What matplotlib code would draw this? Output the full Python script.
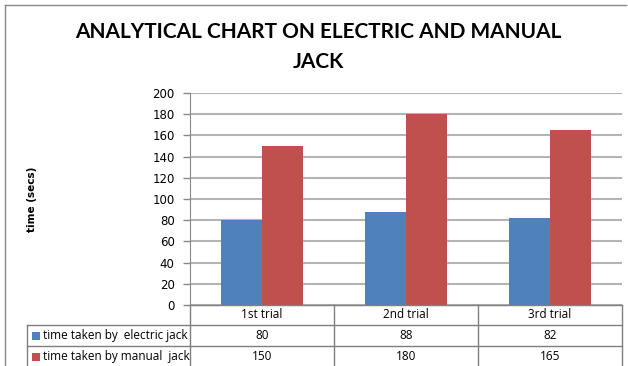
import matplotlib
matplotlib.use("Agg")
import matplotlib.pyplot as plt
from matplotlib.lines import Line2D
from matplotlib.patches import Rectangle

# data
trials = ["1st trial", "2nd trial", "3rd trial"]
series_names = ["time taken by  electric jack", "time taken by manual  jack"]
electric = [80, 88, 82]
manual = [150, 180, 165]
colors = ["#4F81BD", "#C0504D"]
yticks = [0, 20, 40, 60, 80, 100, 120, 140, 160, 180, 200]

W, H = 628, 366
fig = plt.figure(figsize=(W / 100, H / 100), dpi=100)
fig.patch.set_facecolor("white")


def fx(px):
    return px / W


def fy(py):
    return 1 - py / H


# plot area in pixels
left, right, top, bottom = 190, 622, 93, 305
ax = fig.add_axes([fx(left), fy(bottom), fx(right - left), fy(top) - fy(bottom)])

n = len(trials)
bw = 0.285
xs = range(n)
ax.bar([x - bw / 2 for x in xs], electric, bw, color=colors[0], zorder=3)
ax.bar([x + bw / 2 for x in xs], manual, bw, color=colors[1], zorder=3)

ax.set_xlim(-0.5, n - 0.5)
ax.set_ylim(0, 200)
ax.set_yticks(yticks)
ax.set_yticklabels([str(t) for t in yticks], fontsize=8.5, family="DejaVu Sans")
ax.set_xticks([])
ax.tick_params(axis="y", length=5, color="#888888", pad=6, width=1)
ax.yaxis.grid(True, color="#b4b4b4", linewidth=1.5, zorder=0)
for s in ["top", "right", "bottom"]:
    ax.spines[s].set_visible(False)
ax.spines["left"].set_color("#888888")

# title and y label
fig.text(fx(318), fy(32), "ANALYTICAL CHART ON ELECTRIC AND MANUAL", ha="center", va="center",
         fontsize=15, fontweight="bold", family="Lato")
fig.text(fx(318), fy(62), "JACK", ha="center", va="center",
         fontsize=15, fontweight="bold", family="Lato")
fig.text(fx(32), fy(199), "time (secs)", rotation=90, ha="center", va="center",
         fontsize=7.5, fontweight="bold", family="DejaVu Sans")

# outer border
gc = "#888888"
fig.add_artist(Line2D([fx(5), fx(5)], [fy(5), fy(366)], color=gc, lw=1))
fig.add_artist(Line2D([fx(5), fx(626)], [fy(5), fy(5)], color=gc, lw=1))

# data table under the axis
rows = [305, 325, 346, 367]
cat_w = (right - left) / n
col_x = [left + i * cat_w for i in range(n + 1)]
lab_left = 27
tc = "#7f7f7f"
# horizontal lines
fig.add_artist(Line2D([fx(left), fx(right)], [fy(rows[0]), fy(rows[0])], color=tc, lw=1))
for r in rows[1:3]:
    fig.add_artist(Line2D([fx(lab_left), fx(right)], [fy(r), fy(r)], color=tc, lw=1))
# vertical lines
for cx in col_x:
    fig.add_artist(Line2D([fx(cx), fx(cx)], [fy(rows[0]), fy(rows[3])], color=tc, lw=1))
fig.add_artist(Line2D([fx(lab_left), fx(lab_left)], [fy(rows[1]), fy(rows[3])], color=tc, lw=1))

tfont = dict(fontsize=8.5, family="Open Sans")
for i, t in enumerate(trials):
    fig.text(fx(col_x[i] + cat_w / 2), fy((rows[0] + rows[1]) / 2), t, ha="center", va="center", **tfont)

for j, (name, vals) in enumerate(zip(series_names, [electric, manual])):
    yc = (rows[j + 1] + rows[j + 2]) / 2
    fig.add_artist(Rectangle((fx(32), fy(yc + 4)), fx(8), fy(yc - 4) - fy(yc + 4),
                             facecolor=colors[j], edgecolor="none", transform=fig.transFigure))
    fig.text(fx(43), fy(yc), name, ha="left", va="center", **tfont)
    for i, v in enumerate(vals):
        fig.text(fx(col_x[i] + cat_w / 2), fy(yc), str(v), ha="center", va="center", **tfont)

fig.savefig("out.png", dpi=100)
